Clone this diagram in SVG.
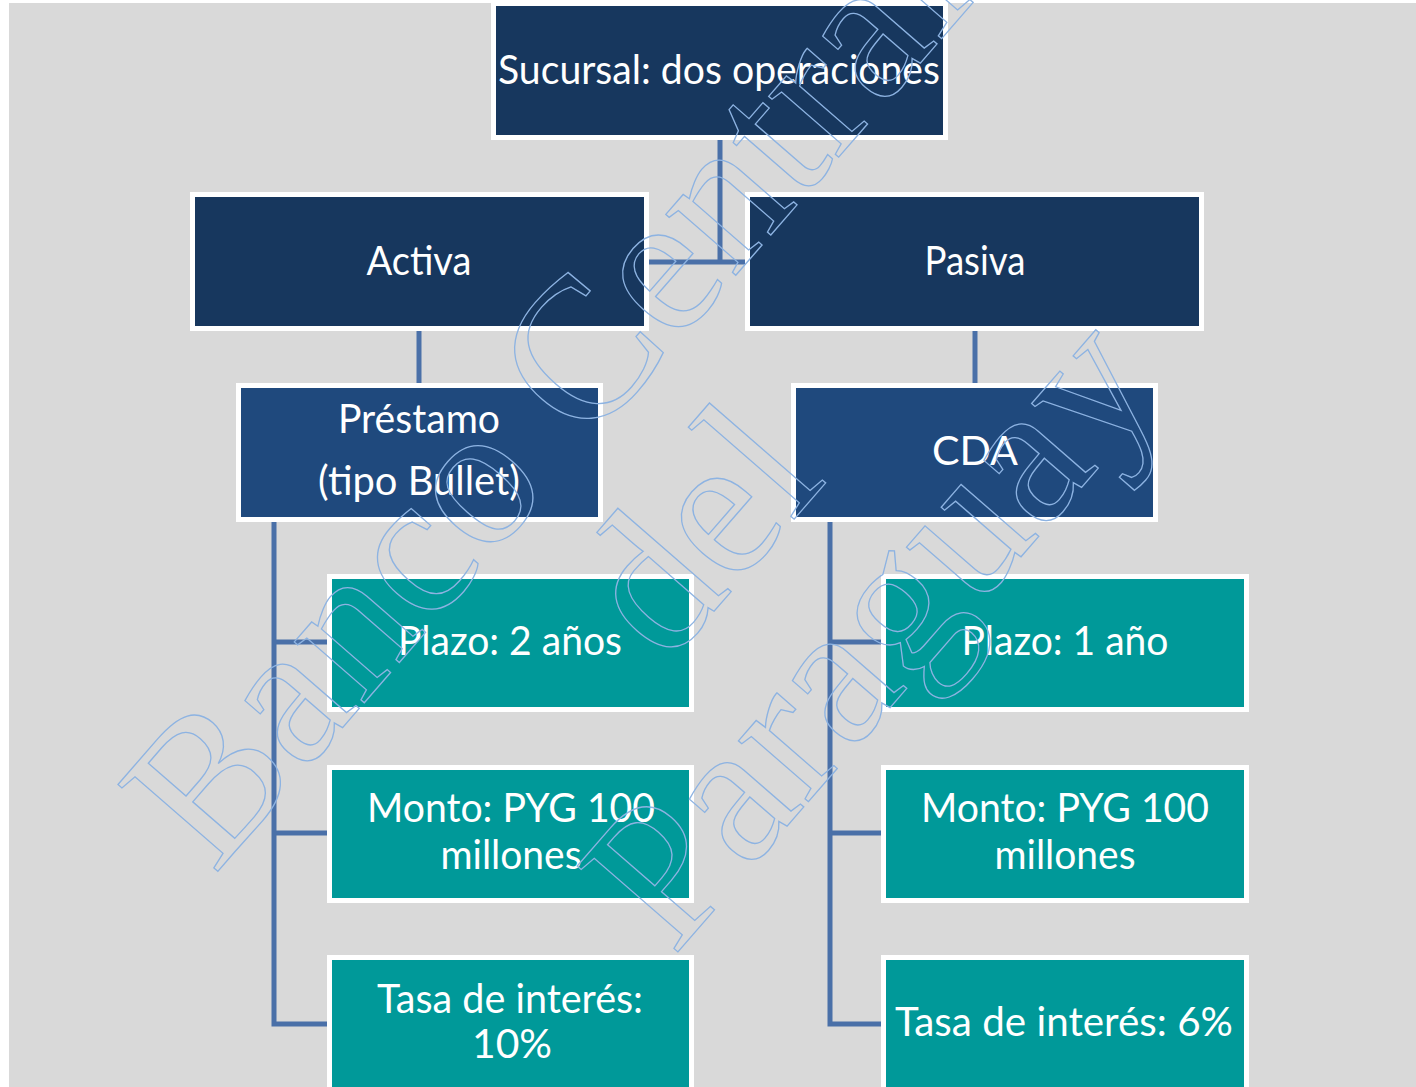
<svg xmlns="http://www.w3.org/2000/svg" width="1416" height="1087" viewBox="0 0 1416 1087">
<style>
.outer{fill:#ffffff}
.n1{fill:#17375e}
.n2{fill:#1f497d}
.n3{fill:#009999}
.lbl{font-family:Lato,"Open Sans","DejaVu Sans",sans-serif;font-size:41px;fill:#ffffff;text-anchor:middle}
.con{stroke:#4a70a8;stroke-width:5;fill:none}
.wm{font-family:"Liberation Serif","Times New Roman",serif;font-size:202px;fill:none;stroke:#8db3e2;stroke-width:1.3;text-anchor:middle}
</style>
<rect x="0" y="0" width="1416" height="1087" fill="#ffffff"/>
<rect x="9" y="3" width="1407" height="1084" fill="#d9d9d9"/>
<g id="connectors">
<path class="con" d="M720,140 V262 M648,262 H746"/>
<path class="con" d="M419,331 V383"/>
<path class="con" d="M975,331 V383"/>
<path class="con" d="M274,522 V1024 H327 M274,642 H327 M274,833 H327"/>
<path class="con" d="M830,522 V1024 H882 M830,642 H882 M830,833 H882"/>
</g>
<g id="root">
<rect class="outer" x="491" y="3" width="457" height="137"/>
<rect class="n1" x="496" y="6" width="447" height="129"/>
<text class="lbl" x="719" y="84" textLength="442" lengthAdjust="spacingAndGlyphs">Sucursal: dos operaciones</text>
</g>
<g id="activa">
<rect class="outer" x="190" y="192" width="459" height="139"/>
<rect class="n1" x="195" y="197" width="449" height="129"/>
<text class="lbl" x="419" y="275" textLength="105" lengthAdjust="spacingAndGlyphs">Activa</text>
</g>
<g id="pasiva">
<rect class="outer" x="745" y="192" width="459" height="139"/>
<rect class="n1" x="750" y="197" width="449" height="129"/>
<text class="lbl" x="975" y="275" textLength="101" lengthAdjust="spacingAndGlyphs">Pasiva</text>
</g>
<g id="prestamo">
<rect class="outer" x="236" y="383" width="367" height="139"/>
<rect class="n2" x="241" y="388" width="357" height="129"/>
<text class="lbl" x="419" y="433" textLength="162" lengthAdjust="spacingAndGlyphs">Préstamo</text>
<text class="lbl" x="419" y="495" textLength="202" lengthAdjust="spacingAndGlyphs">(tipo Bullet)</text>
</g>
<g id="cda">
<rect class="outer" x="791" y="383" width="367" height="139"/>
<rect class="n2" x="796" y="388" width="357" height="129"/>
<text class="lbl" x="975" y="465" textLength="86" lengthAdjust="spacingAndGlyphs">CDA</text>
</g>
<g id="plazo-izq">
<rect class="outer" x="327" y="574" width="367" height="138"/>
<rect class="n3" x="332" y="579" width="357" height="128"/>
<text class="lbl" x="510" y="655" textLength="224" lengthAdjust="spacingAndGlyphs">Plazo: 2 años</text>
</g>
<g id="monto-izq">
<rect class="outer" x="327" y="765" width="367" height="138"/>
<rect class="n3" x="332" y="770" width="357" height="128"/>
<text class="lbl" x="511" y="822" textLength="288" lengthAdjust="spacingAndGlyphs">Monto: PYG 100</text>
<text class="lbl" x="511" y="869" textLength="141" lengthAdjust="spacingAndGlyphs">millones</text>
</g>
<g id="tasa-izq">
<rect class="outer" x="327" y="955" width="367" height="140"/>
<rect class="n3" x="332" y="960" width="357" height="135"/>
<text class="lbl" x="510" y="1013" textLength="266" lengthAdjust="spacingAndGlyphs">Tasa de interés:</text>
<text class="lbl" x="512" y="1058" textLength="80" lengthAdjust="spacingAndGlyphs">10%</text>
</g>
<g id="plazo-der">
<rect class="outer" x="881" y="574" width="368" height="138"/>
<rect class="n3" x="886" y="579" width="358" height="128"/>
<text class="lbl" x="1065" y="655" textLength="207" lengthAdjust="spacingAndGlyphs">Plazo: 1 año</text>
</g>
<g id="monto-der">
<rect class="outer" x="881" y="765" width="368" height="138"/>
<rect class="n3" x="886" y="770" width="358" height="128"/>
<text class="lbl" x="1065" y="822" textLength="288" lengthAdjust="spacingAndGlyphs">Monto: PYG 100</text>
<text class="lbl" x="1065" y="869" textLength="141" lengthAdjust="spacingAndGlyphs">millones</text>
</g>
<g id="tasa-der">
<rect class="outer" x="881" y="955" width="368" height="140"/>
<rect class="n3" x="886" y="960" width="358" height="135"/>
<text class="lbl" x="1064" y="1036" textLength="338" lengthAdjust="spacingAndGlyphs">Tasa de interés: 6%</text>
</g>
<g id="watermark" transform="rotate(-49)">
<text class="wm" x="60" y="736">Banco Central</text>
<text class="wm" x="58" y="940">del</text>
<text class="wm" x="95" y="1136">Paraguay</text>
</g>
</svg>
